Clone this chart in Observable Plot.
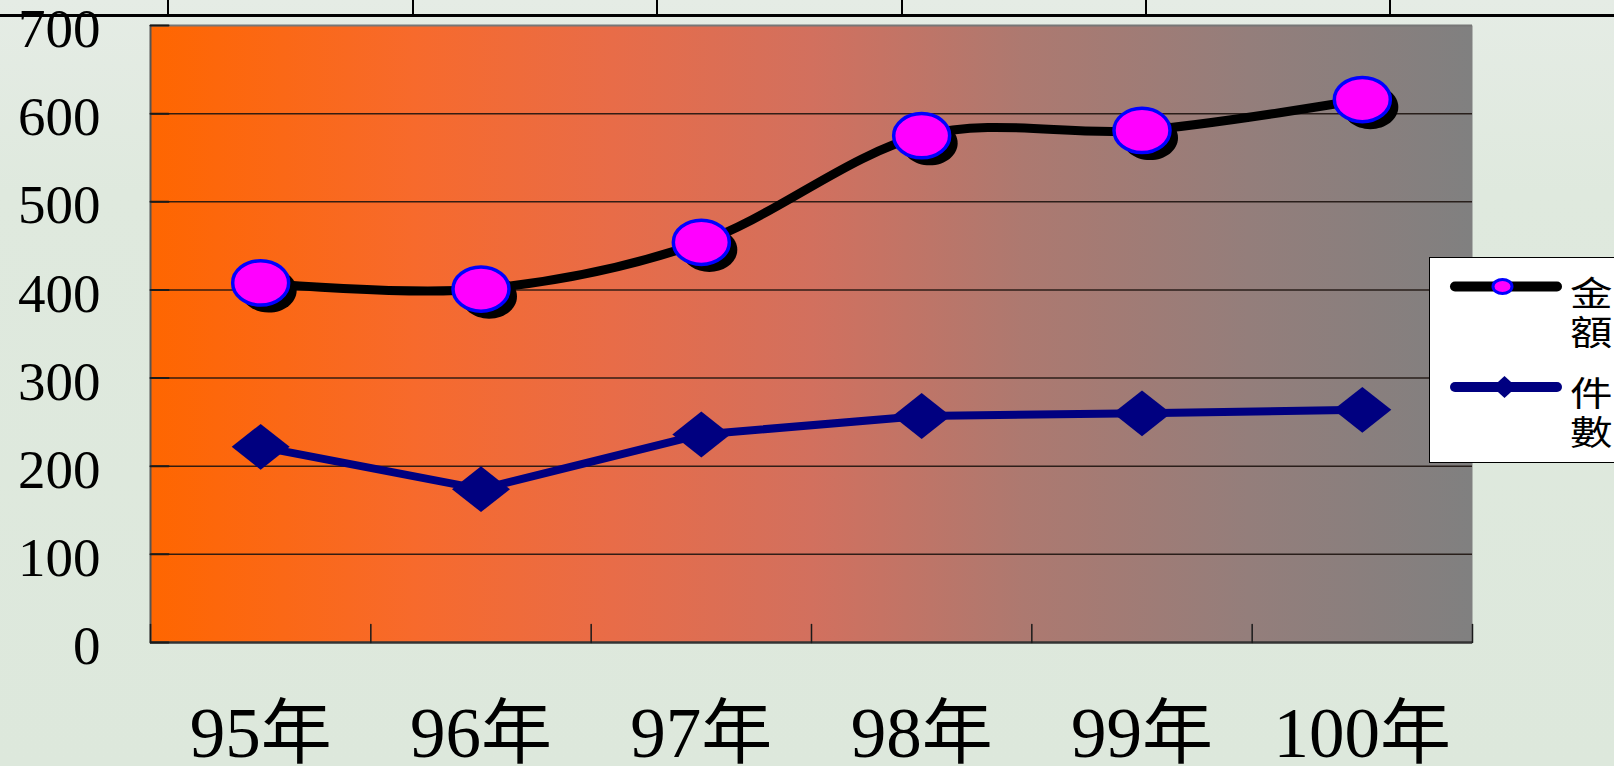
<!DOCTYPE html>
<html>
<head>
<meta charset="utf-8">
<script src="https://cdn.jsdelivr.net/npm/d3@7"></script>
<script src="https://cdn.jsdelivr.net/npm/@observablehq/plot@0.6"></script>
<style>
html, body { margin: 0; padding: 0; }
body {
  width: 1614px; height: 766px; overflow: hidden;
  background: linear-gradient(to bottom, #e5ece5 0%, #dfe9de 25%, #dde8dc 100%);
}
#wrap { position: relative; width: 1614px; height: 766px; }
#chart svg { display: block; }
#topline { position: absolute; left: 0; top: 14px; width: 1614px; height: 3px; background: #000; }
.vline { position: absolute; top: 0; width: 2px; height: 15px; background: #000; }
#legend {
  position: absolute; left: 1429px; top: 257px; width: 200px; height: 206px;
  background: #fff; border: 1.5px solid #000; box-sizing: border-box; overflow: hidden;
}
#legend svg { position: absolute; left: 0; top: 0; }
.lt {
  position: absolute; left: 140px;
  font-family: "Noto Sans CJK TC", sans-serif; font-size: 34px; line-height: 34px; height: 34px; color: #000;
  transform: scaleX(1.25); transform-origin: left top; white-space: nowrap;
}
</style>
</head>
<body>
<div id="wrap">
  <div id="chart"></div>
  <div id="topline"></div>
  <div id="legend"></div>
</div>
<script>
// ---- data ----
const years = ["95年", "96年", "97年", "98年", "99年", "100年"];
const amount = [408, 401, 454, 575, 581, 616];   // 金額
const count = [222, 174, 236, 257, 260, 264];     // 件數
const yTicks = [0, 100, 200, 300, 400, 500, 600, 700];
const xBounds = [0, 1, 2, 3, 4, 5, 6];
const seriesNames = ["金額", "件數"];

const rows = years.map((label, i) => ({pos: i + 0.5, label, amount: amount[i], count: count[i]}));

// ---- custom symbols ----
const ellipse = {
  draw(ctx, size) {
    const r = Math.sqrt(size / Math.PI), rx = r, ry = r * 0.79, k = 0.5523;
    ctx.moveTo(rx, 0);
    ctx.bezierCurveTo(rx, ry * k, rx * k, ry, 0, ry);
    ctx.bezierCurveTo(-rx * k, ry, -rx, ry * k, -rx, 0);
    ctx.bezierCurveTo(-rx, -ry * k, -rx * k, -ry, 0, -ry);
    ctx.bezierCurveTo(rx * k, -ry, rx, -ry * k, rx, 0);
    ctx.closePath();
  }
};
const diamond = {
  draw(ctx, size) {
    const r = Math.sqrt(size / Math.PI), h = r * 0.79;
    ctx.moveTo(0, -h); ctx.lineTo(r, 0); ctx.lineTo(0, h); ctx.lineTo(-r, 0); ctx.closePath();
  }
};
const tickShape = { draw(ctx, l) { ctx.moveTo(0, 0); ctx.lineTo(0, -l); } };

const serif = "'Liberation Serif', 'Noto Sans CJK TC', serif";

const chart = Plot.plot({
  width: 1614,
  height: 766,
  marginLeft: 150,
  marginRight: 142,
  marginTop: 25,
  marginBottom: 124,
  x: {domain: [0, 6], label: null},
  y: {domain: [0, 700], label: null},
  style: {background: "transparent", overflow: "visible"},
  marks: [
    Plot.frame({fill: "url(#plotBg)", stroke: null}),
    Plot.gridY(yTicks.filter(d => d > 0 && d < 700), {stroke: "#1e1410", strokeOpacity: 0.9, strokeWidth: 1.5}),
    Plot.ruleY([700], {stroke: "#777", strokeWidth: 2}),
    Plot.ruleX([0], {stroke: "#555", strokeWidth: 2}),
    Plot.ruleY([0], {stroke: "#333", strokeWidth: 2.5}),
    Plot.vector(yTicks, {x: 0, y: d => d, length: 18, rotate: 90, anchor: "start", shape: tickShape, stroke: "#1a1a1a", strokeWidth: 2}),
    Plot.vector(xBounds, {x: d => d, y: 0, length: 18, rotate: 0, anchor: "start", shape: tickShape, stroke: "#1a1a1a", strokeWidth: 1.5}),
    Plot.axisY(yTicks, {tickSize: 0, tickPadding: 50, fontSize: 55, fontFamily: serif, fill: "#000", dy: 4, label: null}),
    Plot.axisX(rows.map(d => d.pos), {tickSize: 0, tickPadding: 64, tickFormat: d => years[Math.floor(d)], fontSize: 71, fontFamily: serif, fill: "#000", label: null}),
    Plot.line(rows, {x: "pos", y: "count", stroke: "#000080", strokeWidth: 8}),
    Plot.dot(rows, {x: "pos", y: "count", symbol: diamond, r: 29, fill: "#000080"}),
    Plot.line(rows, {x: "pos", y: "amount", stroke: "#000", strokeWidth: 9, curve: "cardinal"}),
    Plot.dot(rows, {x: "pos", y: "amount", symbol: ellipse, r: 28, fill: "#000", dx: 8, dy: 7.5}),
    Plot.dot(rows, {x: "pos", y: "amount", symbol: ellipse, r: 28, fill: "#ff00ff", stroke: "#0000ff", strokeWidth: 3.5})
  ]
});

// gradient fill for the plot area
const gradStops = [[0, "#ff6600"], [0.2, "#f76a2c"], [0.35, "#e86c48"], [0.5, "#d2705e"], [0.66, "#ad7970"], [0.83, "#947e7b"], [1, "#808080"]];
const svg = d3.select(chart);
const grad = svg.insert("defs", ":first-child").append("linearGradient")
  .attr("id", "plotBg").attr("x1", 0).attr("x2", 1).attr("y1", 0).attr("y2", 0);
grad.selectAll("stop").data(gradStops).join("stop")
  .attr("offset", d => d[0]).attr("stop-color", d => d[1]);

document.getElementById("chart").appendChild(chart);

// decorative table border at the top
const wrap = document.getElementById("wrap");
[168, 413, 657, 902, 1146, 1390].forEach(x => {
  const v = document.createElement("div");
  v.className = "vline";
  v.style.left = (x - 1) + "px";
  wrap.appendChild(v);
});

// legend
const legend = d3.select("#legend");
const ls = legend.append("svg").attr("width", 200).attr("height", 206);
ls.append("line").attr("x1", 25).attr("x2", 127).attr("y1", 28.5).attr("y2", 28.5)
  .attr("stroke", "#000").attr("stroke-width", 10).attr("stroke-linecap", "round");
ls.append("ellipse").attr("cx", 72.5).attr("cy", 28.5).attr("rx", 9.5).attr("ry", 7)
  .attr("fill", "#ff00ff").attr("stroke", "#0000ff").attr("stroke-width", 3);
ls.append("line").attr("x1", 25).attr("x2", 127).attr("y1", 129).attr("y2", 129)
  .attr("stroke", "#000080").attr("stroke-width", 10).attr("stroke-linecap", "round");
ls.append("path").attr("d", "M74.5,118 L86.5,129 L74.5,140 L62.5,129 Z").attr("fill", "#000080");
// each series name wraps one character per line, as in the reference
[[seriesNames[0], 17], [seriesNames[1], 117]].forEach(([name, top]) => {
  name.split("").forEach((ch, k) => {
    legend.append("div").attr("class", "lt").style("top", (top + k * 39) + "px").text(ch);
  });
});
</script>
</body>
</html>
